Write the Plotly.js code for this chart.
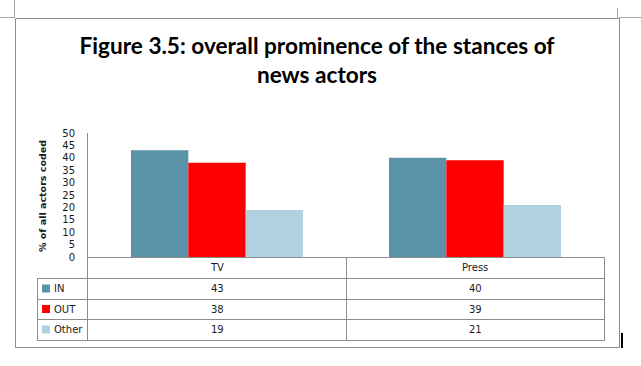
<!DOCTYPE html>
<html>
<head>
<meta charset="utf-8">
<script src="https://cdn.plot.ly/plotly-3.0.1.min.js"></script>
<style>html,body{margin:0;padding:0;background:#fff;}#chart{width:641px;height:366px;}</style>
</head>
<body>
<div id="chart"></div>
<script>
// ---- data ----
const categories = ['TV', 'Press'];
const seriesNames = ['IN', 'OUT', 'Other'];
const inValues = [43, 40];
const outValues = [38, 39];
const otherValues = [19, 21];
const seriesValues = [inValues, outValues, otherValues];
const seriesColors = ['#5A93A8', '#FF0000', '#B1D1DE'];
const titleText = 'Figure 3.5: overall prominence of the stances of<br>news actors';
const yTitleText = '% of all actors coded';

// ---- layout geometry (pixels) ----
const W = 641, H = 366;
const L = 88, R = 604, T = 133, B = 257;
const pw = R - L, ph = B - T;
const PX = p => (p - L) / pw;           // pixel x -> paper
const PY = p => (B - p) / ph;           // pixel y -> paper
const LX = p => PX(p + 0.5);            // crisp line centres
const LY = p => PY(p + 0.5);
const grid = '#8C8C8C';
const tFont = {family: 'DejaVu Sans', size: 10, color: '#1a1a1a'};

const traces = seriesNames.map((name, i) => ({
  type: 'bar', name: name, x: categories, y: seriesValues[i],
  marker: {color: seriesColors[i], line: {width: 0}},
  hoverinfo: 'x+y+name'
}));

const shapes = [];
const annotations = [];
function hline(y, x0, x1, color, w) {
  shapes.push({type: 'line', xref: 'paper', yref: 'paper', x0: PX(x0), x1: PX(x1), y0: LY(y), y1: LY(y),
    line: {color: color || grid, width: w || 1}});
}
function vline(x, y0, y1, color, w) {
  shapes.push({type: 'line', xref: 'paper', yref: 'paper', x0: LX(x), x1: LX(x), y0: PY(y0), y1: PY(y1),
    line: {color: color || grid, width: w || 1}});
}

// outer chart frame and page marks
shapes.push({type: 'rect', xref: 'paper', yref: 'paper', x0: LX(15), x1: LX(619), y0: LY(18), y1: LY(347),
  line: {color: '#8C8C8C', width: 1}, fillcolor: 'rgba(0,0,0,0)'});
hline(17, 0, 15, '#A6A6A6'); vline(14, 0, 18, '#A6A6A6');
hline(17, 619, 641, '#A6A6A6'); vline(617, 8, 18, '#A6A6A6');
// text cursor
shapes.push({type: 'rect', xref: 'paper', yref: 'paper', x0: PX(621), x1: PX(623), y0: PY(333), y1: PY(348),
  line: {width: 0}, fillcolor: '#000'});

// data table
const rowLines = [278, 299, 319, 340];
hline(257, 87, 605);
rowLines.forEach(y => hline(y, 37, 605));
vline(37, 278, 341);
vline(87, 257, 341);
vline(346, 257, 341);
vline(604, 257, 341);

const headerY = 267.5;
const rowY = [288.5, 309, 329.5];
categories.forEach((c, j) => {
  annotations.push({xref: 'x', yref: 'paper', x: j, y: PY(headerY), text: c, showarrow: false,
    xanchor: 'center', yanchor: 'middle', font: tFont});
  seriesValues.forEach((vals, i) => {
    annotations.push({xref: 'x', yref: 'paper', x: j, y: PY(rowY[i]), text: String(vals[j]), showarrow: false,
      xanchor: 'center', yanchor: 'middle', font: tFont});
  });
});
seriesNames.forEach((n, i) => {
  shapes.push({type: 'rect', xref: 'paper', yref: 'paper', x0: PX(42), x1: PX(50), y0: PY(rowY[i] - 4), y1: PY(rowY[i] + 4),
    line: {width: 0}, fillcolor: seriesColors[i]});
  annotations.push({xref: 'paper', yref: 'paper', x: PX(52), y: PY(rowY[i]), text: n, showarrow: false,
    xanchor: 'left', yanchor: 'middle', font: tFont});
});

// y-axis title
annotations.push({xref: 'paper', yref: 'paper', x: PX(42), y: PY(196), text: '<b>' + yTitleText + '</b>',
  textangle: -90, showarrow: false, xanchor: 'center', yanchor: 'middle',
  font: {family: 'DejaVu Sans', size: 9.5, color: '#1a1a1a'}});

const layout = {
  width: W, height: H,
  margin: {l: L, r: W - R, t: T, b: H - B, pad: 0},
  paper_bgcolor: '#fff', plot_bgcolor: '#fff',
  showlegend: false,
  barmode: 'group', bargap: 0.333, bargroupgap: 0,
  title: {text: '<b>' + titleText + '</b>', font: {family: 'Lato', size: 22.6, color: '#000'},
    xref: 'paper', x: PX(317), xanchor: 'center', yref: 'container', y: 1 - 54 / H, yanchor: 'middle'},
  xaxis: {type: 'category', range: [-0.5, 1.5], showticklabels: false, showline: false, showgrid: false,
    zeroline: false, ticks: '', fixedrange: true},
  yaxis: {range: [0, 50], dtick: 5, tick0: 0, showgrid: false, zeroline: false, showline: true,
    linecolor: grid, linewidth: 1, ticks: '', ticklabelstandoff: 10,
    tickfont: tFont, fixedrange: true},
  shapes: shapes, annotations: annotations
};

Plotly.newPlot('chart', traces, layout, {displayModeBar: false, staticPlot: true});
</script>
</body>
</html>
